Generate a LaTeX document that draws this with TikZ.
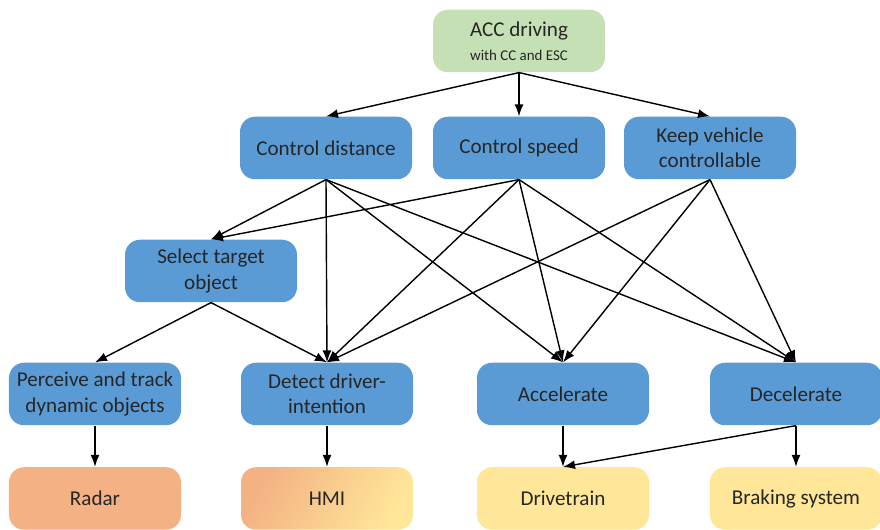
\documentclass[tikz,border=0pt]{standalone}
\usepackage{fontspec}
\setmainfont{Carlito}
\usetikzlibrary{arrows.meta}

\definecolor{funcblue}{RGB}{91,155,213}
\definecolor{goalgreen}{RGB}{197,224,180}
\definecolor{sensorange}{RGB}{244,177,131}
\definecolor{actyellow}{RGB}{255,230,153}

\tikzset{
    box/.style={rounded corners=0.3cm, minimum width=3.44cm, minimum height=1.25cm,
        align=center, text=black!85, font=\fontsize{12}{14.5}\selectfont},
    func/.style={box, fill=funcblue},
    link/.style={-{Latex[length=2.4mm,width=1.8mm]}, line width=0.8pt}
}

\begin{document}
\begin{tikzpicture}
    \useasboundingbox (0,0) rectangle (17.6,10.6);

    \node[box, fill=goalgreen] (acc) at (10.38,9.78)
        {ACC driving\\[-1pt]{\fontsize{8.5}{10}\selectfont with CC and ESC}};

    \node[func] (dist)  at (6.52,7.64)  {Control distance};
    \node[func] (speed) at (10.38,7.64) {Control speed};
    \node[func] (keep)  at (14.2,7.64)  {Keep vehicle\\controllable};

    \node[func] (select) at (4.22,5.18) {Select target\\object};

    \node[func] (perceive) at (1.9,2.72)   {Perceive and track\\dynamic objects};
    \node[func] (detect)   at (6.54,2.72)  {Detect driver-\\intention};
    \node[func] (accel)    at (11.26,2.72) {Accelerate};
    \node[func] (decel)    at (15.92,2.72) {Decelerate};

    \node[box, fill=sensorange] (radar) at (1.9,0.63) {Radar};
    \node[box, left color=sensorange, right color=actyellow, shading angle=60] (hmi) at (6.54,0.63) {HMI};
    \node[box, fill=actyellow] (drive) at (11.26,0.63) {Drivetrain};
    \node[box, fill=actyellow] (brake) at (15.92,0.63) {Braking system};

    \foreach \dst in {dist,speed,keep}
        \draw[link] (acc.south) -- (\dst.north);

    \foreach \dst in {select,detect,accel,decel}
        \draw[link] (dist.south) -- (\dst.north);
    \foreach \dst in {select,detect,accel,decel}
        \draw[link] (speed.south) -- (\dst.north);
    \foreach \dst in {detect,accel,decel}
        \draw[link] (keep.south) -- (\dst.north);

    \draw[link] (select.south) -- (perceive.north);
    \draw[link] (select.south) -- (detect.north);

    \draw[link] (perceive) -- (radar);
    \draw[link] (detect) -- (hmi);
    \draw[link] (accel) -- (drive);
    \draw[link] (decel) -- (brake);
    \draw[link] (decel.south) -- (drive.north);
\end{tikzpicture}
\end{document}
